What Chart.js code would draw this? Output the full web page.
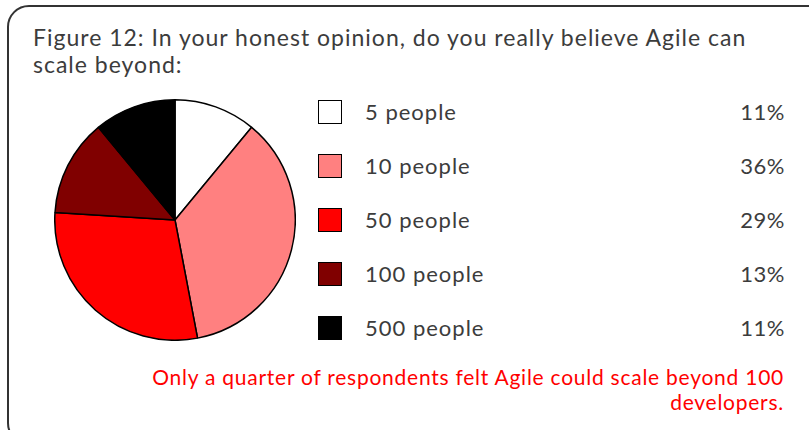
<!DOCTYPE html>
<html>
<head>
<meta charset="utf-8">
<script src="https://cdn.jsdelivr.net/npm/chart.js@4"></script>
<style>
  html, body { margin: 0; padding: 0; background: #fff; }
  body { width: 809px; height: 430px; position: relative; overflow: hidden; font-family: Lato, "Open Sans", sans-serif; color: #3c3c3c; }
  .frame { position: absolute; left: 7px; top: 5px; width: 830px; height: 440px; border: 2px solid #333; border-radius: 22px; box-sizing: border-box; }
  .title { position: absolute; left: 33px; top: 24px; font-size: 23px; line-height: 27px; margin: 0; font-weight: normal; letter-spacing: 1px; }
  .pie { position: absolute; left: 54px; top: 99px; width: 242px; height: 242px; }
  .legend { position: absolute; left: 318px; top: 100px; width: 467px; }
  .row { position: relative; height: 54px; }
  .swatch { position: absolute; left: 0; top: 0; width: 24px; height: 24px; box-sizing: border-box; border: 1.5px solid #000; }
  .label { position: absolute; left: 47px; top: -2px; font-size: 22px; line-height: 28px; letter-spacing: 1px; }
  .pct { position: absolute; right: 0; top: -2px; font-size: 22px; line-height: 28px; letter-spacing: 0.5px; }
  .note { position: absolute; right: 25px; top: 364px; width: 700px; text-align: right; color: #f00; font-size: 21px; line-height: 25px; letter-spacing: 0.75px; }
</style>
</head>
<body>
<div class="frame"></div>
<h1 class="title">Figure 12: In your honest opinion, do you really believe Agile can<br>scale beyond:</h1>
<div class="pie"><canvas id="pie" width="242" height="242"></canvas></div>
<div class="legend" id="legend"></div>
<div class="note">Only a quarter of respondents felt Agile could scale beyond 100<br>developers.</div>
<script>
const categories = ['5 people', '10 people', '50 people', '100 people', '500 people'];
const shares = [11, 36, 29, 13, 11];
const sliceColors = ['#ffffff', '#ff8080', '#ff0000', '#800000', '#000000'];

new Chart(document.getElementById('pie'), {
  type: 'pie',
  data: {
    labels: categories,
    datasets: [{
      data: shares,
      backgroundColor: sliceColors,
      borderColor: '#000',
      borderWidth: 1.5,
    }],
  },
  options: {
    responsive: false,
    animation: false,
    layout: { padding: 0 },
    plugins: { legend: { display: false }, tooltip: { enabled: false } },
  },
});

let html = '';
categories.forEach((c, i) => {
  html += `<div class="row"><div class="swatch" style="background:${sliceColors[i]}"></div>` +
    `<span class="label">${c}</span><span class="pct">${shares[i]}%</span></div>`;
});
document.getElementById('legend').innerHTML = html;
</script>
</body>
</html>
